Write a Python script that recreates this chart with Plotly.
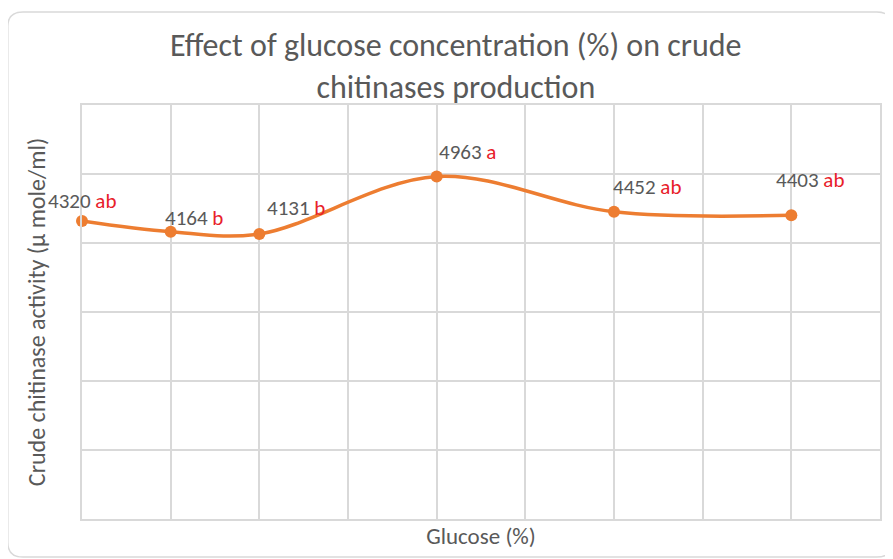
import plotly.graph_objects as go

glucose = [0, 0.25, 0.5, 1.0, 1.5, 2.0]
activity = [4320, 4164, 4131, 4963, 4452, 4403]
letters = ["ab", "b", "b", "a", "ab", "ab"]

# label offsets in pixels (x, y)
label_dx = [0, 23, 37, 31, 33, 19]
label_dy = [20, 14, 26, 25, 25, 35]

FONT = "Calibri, Carlito, Lato, sans-serif"
GRAY = "#595959"
ORANGE = "#ED7D31"
GRID = "#D9D9D9"

fig = go.Figure()
fig.add_trace(go.Scatter(
    x=glucose, y=activity, mode="lines+markers",
    line=dict(color=ORANGE, width=3.5, shape="spline", smoothing=1),
    marker=dict(color=ORANGE, size=12),
    cliponaxis=False,
    hoverinfo="x+y", showlegend=False,
))

for xv, yv, lt, dx, dy in zip(glucose, activity, letters, label_dx, label_dy):
    fig.add_annotation(
        x=xv, y=yv, xref="x", yref="y", showarrow=False,
        text=f"{yv} <span style='color:#E8212A'>{lt}</span>",
        font=dict(family=FONT, size=21, color=GRAY),
        xanchor="center", yanchor="middle", xshift=dx, yshift=dy,
    )

# rounded chart border
fig.add_shape(
    type="path", xref="paper", yref="paper", layer="below",
    path=("M -0.074 1.2246 L 0.996 1.2246 Q 1.015 1.2246 1.015 1.19 "
          "L 1.015 -0.056 Q 1.015 -0.092 0.996 -0.092 L -0.074 -0.092 "
          "Q -0.093 -0.092 -0.093 -0.056 L -0.093 1.19 Q -0.093 1.2246 -0.074 1.2246 Z"),
    line=dict(color=GRID, width=1.5), fillcolor="rgba(0,0,0,0)",
)

fig.update_layout(
    width=885, height=551,
    margin=dict(l=74, r=13, t=97, b=40, autoexpand=False),
    paper_bgcolor="white", plot_bgcolor="white",
    title=dict(
        text="Effect of glucose concentration (%) on crude<br>chitinases production",
        x=0.506, xanchor="center", y=0.912, yanchor="middle",
        font=dict(family=FONT, size=32, color=GRAY),
    ),
    xaxis=dict(
        range=[0, 2.25], dtick=0.25, tick0=0,
        showgrid=True, gridcolor=GRID, gridwidth=1.5,
        showticklabels=False, zeroline=False, automargin=False,
        showline=True, linecolor=GRID, linewidth=1.5, mirror=True,
        title=dict(text="Glucose (%)", font=dict(family=FONT, size=23, color=GRAY), standoff=8),
    ),
    yaxis=dict(
        range=[0, 6000], dtick=1000,
        showgrid=True, gridcolor=GRID, gridwidth=1.5,
        showticklabels=False, zeroline=False, automargin=False,
        showline=True, linecolor=GRID, linewidth=1.5, mirror=True,
        title=dict(text="Crude chitinase activity (µ mole/ml)", font=dict(family=FONT, size=24, color=GRAY), standoff=28),
    ),
)

fig.write_html("out.html")
